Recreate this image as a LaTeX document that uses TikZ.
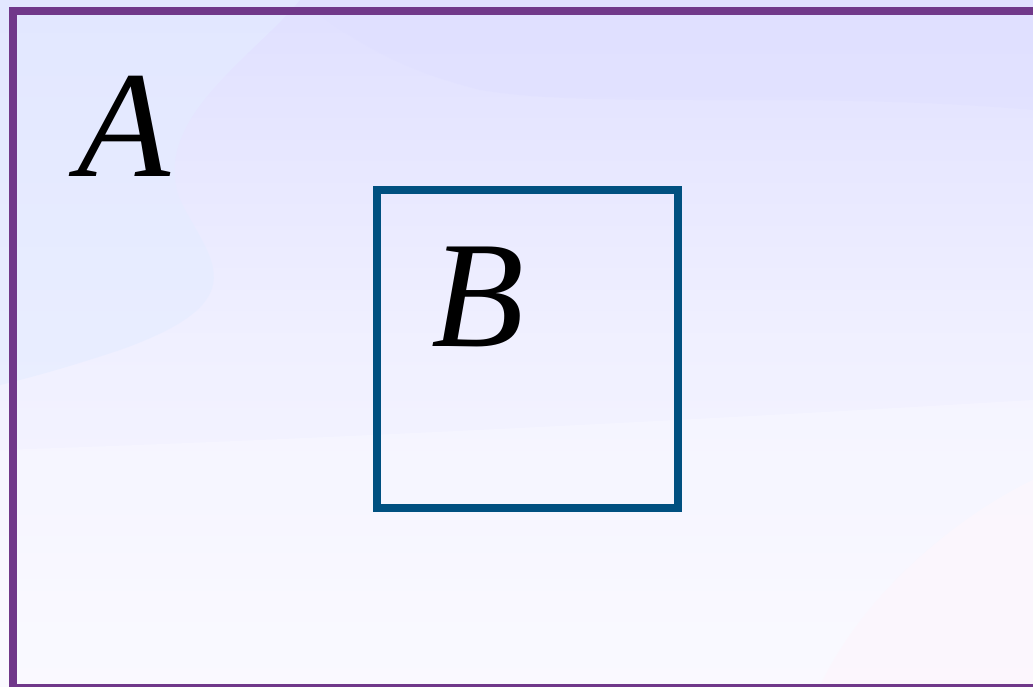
\documentclass[tikz,border=0pt]{standalone}
\usepackage{fontspec}
\setmainfont{Liberation Serif}
\definecolor{outerc}{RGB}{112,56,138}
\definecolor{innerc}{RGB}{0,80,128}
\definecolor{bgtop}{RGB}{224,224,255}
\definecolor{bgmid}{RGB}{240,240,255}
\definecolor{bgbot}{RGB}{249,248,255}
\definecolor{bgblue}{RGB}{228,236,255}
\definecolor{bgpink}{RGB}{253,246,253}
\tikzset{
  lbl/.style={anchor=base west, inner sep=0pt, font=\fontsize{152}{152}\selectfont\itshape},
  outerbox/.style={draw=outerc, line width=8pt},
  innerbox/.style={draw=innerc, line width=8pt}
}
\begin{document}
\begin{tikzpicture}[x=1pt,y=-1pt]
\useasboundingbox (0,0) rectangle (1033,686);
\clip (0,0) rectangle (1033,686);
% background
\shade[top color=bgtop, bottom color=bgbot, middle color=bgmid] (0,0) rectangle (1033,686);
\fill[bgblue, opacity=0.6] (0,0) -- (300,0) .. controls (250,60) and (150,120) .. (180,200) .. controls (210,260) and (260,300) .. (120,350) .. controls (60,370) and (20,380) .. (0,385) -- cycle;
\fill[bgtop, opacity=0.5] (300,0) -- (1033,0) -- (1033,110) .. controls (800,90) and (600,110) .. (480,90) .. controls (400,70) and (350,40) .. (300,0) -- cycle;
\fill[white, opacity=0.25] (0,450) .. controls (300,440) and (700,420) .. (1033,400) -- (1033,686) -- (0,686) -- cycle;
\fill[bgpink, opacity=0.7] (1033,480) .. controls (950,520) and (860,600) .. (820,686) -- (1033,686) -- cycle;
% boxes
\draw[outerbox] (13,11) rectangle (1045,687.5);
\node[lbl] (A) at (77,176) {A};
\draw[innerbox] (376.7,190) rectangle (678,508);
\node[lbl] (B) at (431,346) {B};
\end{tikzpicture}
\end{document}
